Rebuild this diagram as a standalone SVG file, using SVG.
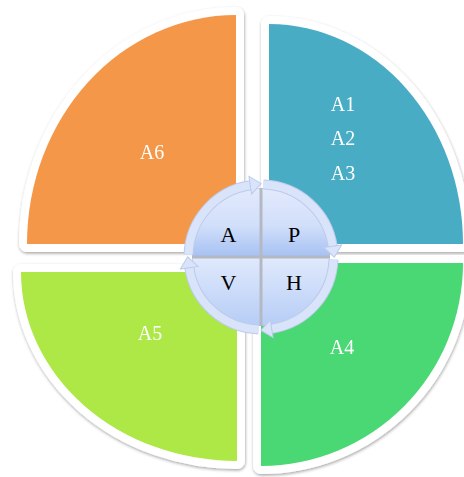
<svg xmlns="http://www.w3.org/2000/svg" width="464" height="477" viewBox="0 0 464 477">
<defs>
<style>
.q{stroke:#ffffff;stroke-width:16;stroke-linejoin:round;paint-order:stroke}
.ql{font-family:"Liberation Serif","Times New Roman",serif;font-size:20px;fill:#ffffff;text-anchor:middle}
.cl{font-family:"Liberation Serif","Times New Roman",serif;font-size:22px;fill:#000000;text-anchor:middle}
.shaftEdge{fill:none;stroke:#bccbec;stroke-width:10}
.shaft{fill:none;stroke:#d9e3f9;stroke-width:8;marker-end:url(#ah)}
</style>
<filter id="sh" x="-10%" y="-10%" width="120%" height="120%">
<feDropShadow dx="0.5" dy="1.5" stdDeviation="1.6" flood-color="#000" flood-opacity="0.35"/>
</filter>
<linearGradient id="gTop" x1="0" y1="0" x2="0" y2="1">
<stop offset="0" stop-color="#e2eafc"/>
<stop offset="0.55" stop-color="#d2dffa"/>
<stop offset="1" stop-color="#a7c2f3"/>
</linearGradient>
<linearGradient id="gBot" x1="0" y1="0" x2="0" y2="1">
<stop offset="0" stop-color="#e0e9fc"/>
<stop offset="1" stop-color="#b6cdf6"/>
</linearGradient>
<marker id="ah" markerUnits="userSpaceOnUse" markerWidth="14" markerHeight="22" viewBox="-1 -11 14 22" refX="0" refY="0" orient="auto" overflow="visible">
<path d="M0,-9 L11,0 L0,9 Z" fill="#d9e3f9" stroke="#bccbec" stroke-width="1"/>
</marker>
</defs>
<rect width="464" height="477" fill="#ffffff"/>

<g id="node-A6" filter="url(#sh)">
<path class="q" d="M236,244 L27,244 A209,229 0 0 1 236,15 Z" fill="#f5974a"/>
<text class="ql" x="152" y="159">A6</text>
</g>
<g id="node-A1" filter="url(#sh)">
<path class="q" d="M269,244 L269,24 A194,220 0 0 1 463,244 Z" fill="#4aacc5"/>
<text class="ql" x="343" y="111">A1</text>
<text class="ql" x="343" y="145">A2</text>
<text class="ql" x="343" y="180">A3</text>
</g>
<g id="node-A4" filter="url(#sh)">
<path class="q" d="M261,263 L463,263 A202,203 0 0 1 261,466 Z" fill="#48d873"/>
<text class="ql" x="342" y="354">A4</text>
</g>
<g id="node-A5" filter="url(#sh)">
<path class="q" d="M237,272 L237,461 A216,189 0 0 1 21,272 Z" fill="#ade846"/>
<text class="ql" x="150" y="340">A5</text>
</g>

<circle cx="261" cy="257" r="69" fill="#b4b8c2"/>
<g id="node-A">
<path d="M259.5,255.5 H192.5 A67,67 0 0 1 259.5,188.5 Z" fill="url(#gTop)"/>
<text class="cl" x="228.5" y="242">A</text>
</g>
<g id="node-P">
<path d="M262.5,255.5 V188.5 A67,67 0 0 1 329.5,255.5 Z" fill="url(#gTop)"/>
<text class="cl" x="294" y="242">P</text>
</g>
<g id="node-H">
<path d="M262.5,258.5 H329.5 A67,67 0 0 1 262.5,325.5 Z" fill="url(#gBot)"/>
<text class="cl" x="294" y="290">H</text>
</g>
<g id="node-V">
<path d="M259.5,258.5 V325.5 A67,67 0 0 1 192.5,258.5 Z" fill="url(#gBot)"/>
<text class="cl" x="228.5" y="290">V</text>
</g>

<g id="connectors">
<path class="shaftEdge" d="M188.54,254.47 A72.5,72.5 0 0 1 250.28,185.30"/>
<path class="shaftEdge" d="M263.53,184.54 A72.5,72.5 0 0 1 332.70,246.28"/>
<path class="shaftEdge" d="M333.46,259.53 A72.5,72.5 0 0 1 271.72,328.70"/>
<path class="shaftEdge" d="M258.47,329.46 A72.5,72.5 0 0 1 189.30,267.72"/>
<path class="shaft" d="M188.54,254.47 A72.5,72.5 0 0 1 250.28,185.30"/>
<path class="shaft" d="M263.53,184.54 A72.5,72.5 0 0 1 332.70,246.28"/>
<path class="shaft" d="M333.46,259.53 A72.5,72.5 0 0 1 271.72,328.70"/>
<path class="shaft" d="M258.47,329.46 A72.5,72.5 0 0 1 189.30,267.72"/>
</g>
</svg>
